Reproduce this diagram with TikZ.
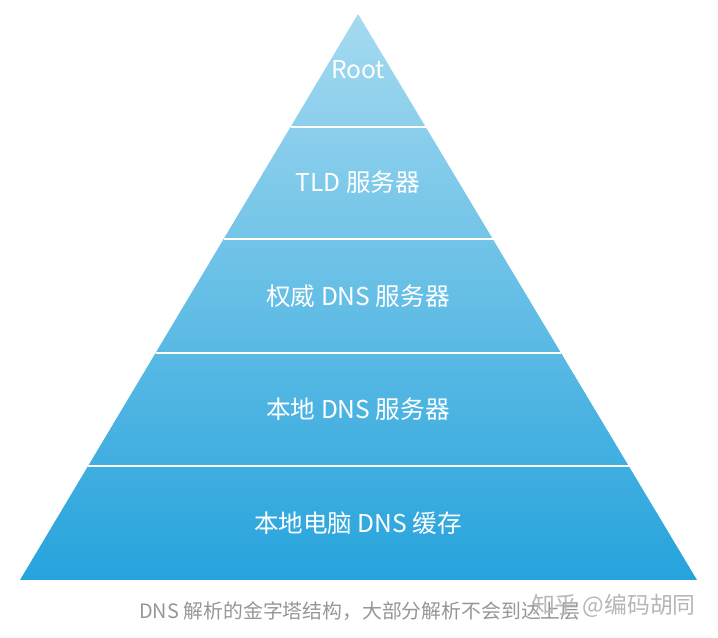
\documentclass[tikz,border=0pt]{standalone}
\usepackage{fontspec}
\setmainfont{Noto Sans CJK SC}
\usepackage{tikz}
\usetikzlibrary{positioning,calc}
\definecolor{toplight}{RGB}{165,218,240}
\definecolor{botdark}{RGB}{38,163,220}
\definecolor{capgray}{RGB}{150,150,150}
\tikzset{layer/.style={text=white,font=\fontsize{14}{14}\selectfont},
  split/.style={white,line width=1.2pt}}
\begin{document}
\begin{tikzpicture}[x=0.02cm,y=-0.02cm]
\useasboundingbox (0,0) rectangle (718,638);
\coordinate (apex) at (358,14);
\coordinate (bl) at (20,580);
\coordinate (br) at (697,580);
\shade[top color=toplight,bottom color=botdark] (apex) -- (br) -- (bl) -- cycle;
% white lines between the layers
\foreach \y in {127,239,353,466}
  \draw[split] ($(apex)!{(\y-14)/566}!(bl)$) -- ($(apex)!{(\y-14)/566}!(br)$);
\node[layer] (root) at (358,70) {Root};
\node[layer] (tld) at (358,182) {TLD 服务器};
\node[layer] (auth) at (358,296) {权威 DNS 服务器};
\node[layer] (local) at (358,409) {本地 DNS 服务器};
\node[layer] (cache) at (358,523) {本地电脑 DNS 缓存};
\node[text=capgray,font=\fontsize{11.3}{12}\selectfont] (caption) at (360,611) {DNS 解析的金字塔结构，大部分解析不会到达上层};
\node[text=capgray!70,font=\fontsize{13}{13}\selectfont,anchor=east] (mark) at (702,606) {知乎 @编码胡同};
\end{tikzpicture}
\end{document}
